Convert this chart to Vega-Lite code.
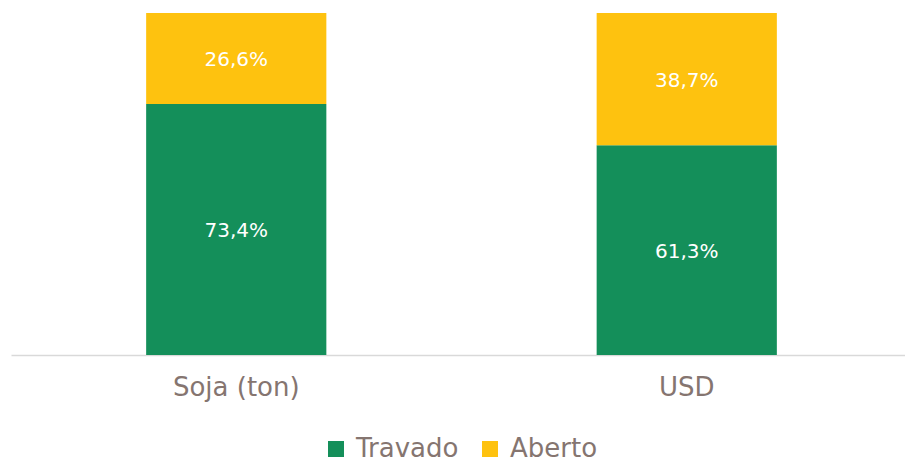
{
  "$schema": "https://vega.github.io/schema/vega-lite/v6.json",
  "width": 901,
  "height": 342,
  "autosize": {"type": "none"},
  "padding": {"left": 11, "top": 13, "right": 0, "bottom": 108},
  "background": "white",
  "config": {"view": {"stroke": null}, "font": "DejaVu Sans"},
  "data": {
    "values": [
      {"cat": "Soja (ton)", "serie": "Travado", "ord": 1, "v": 73.4, "label": "73,4%"},
      {"cat": "Soja (ton)", "serie": "Aberto", "ord": 2, "v": 26.6, "label": "26,6%"},
      {"cat": "USD", "serie": "Travado", "ord": 1, "v": 61.3, "label": "61,3%"},
      {"cat": "USD", "serie": "Aberto", "ord": 2, "v": 38.7, "label": "38,7%"}
    ]
  },
  "transform": [
    {"stack": "v", "groupby": ["cat"], "sort": [{"field": "ord", "order": "ascending"}], "as": ["v0", "v1"]},
    {"calculate": "(datum.v0 + datum.v1) / 2", "as": "mid"}
  ],
  "encoding": {
    "x": {
      "field": "cat", "type": "nominal", "sort": ["Soja (ton)", "USD"],
      "scale": {"paddingInner": 0.6, "paddingOuter": 0.3},
      "axis": {
        "title": null, "labelAngle": 0, "labelFontSize": 26, "labelColor": "#857570",
        "labelPadding": 19, "ticks": false, "domainColor": "#d9d9d9", "domainWidth": 1.5,
        "labelFont": "DejaVu Sans"
      }
    }
  },
  "layer": [
    {
      "mark": {"type": "bar"},
      "encoding": {
        "y": {"field": "v0", "type": "quantitative", "scale": {"domain": [0, 100]}, "axis": null},
        "y2": {"field": "v1"},
        "color": {
          "field": "serie", "type": "nominal",
          "scale": {"domain": ["Travado", "Aberto"], "range": ["#148f5a", "#fec20f"]},
          "legend": {
            "title": null, "orient": "none", "direction": "horizontal",
            "legendX": 312, "legendY": 423,
            "symbolType": "square", "symbolSize": 256, "symbolStrokeWidth": 0,
            "labelFontSize": 26, "labelColor": "#857570", "labelFont": "DejaVu Sans",
            "columnPadding": 18, "labelOffset": 7, "labelLimit": 300
          }
        }
      }
    },
    {
      "mark": {"type": "text", "color": "white", "fontSize": 20, "font": "DejaVu Sans", "baseline": "middle", "dy": 2},
      "encoding": {
        "y": {"field": "mid", "type": "quantitative", "scale": {"domain": [0, 100]}},
        "text": {"field": "label"}
      }
    }
  ]
}
